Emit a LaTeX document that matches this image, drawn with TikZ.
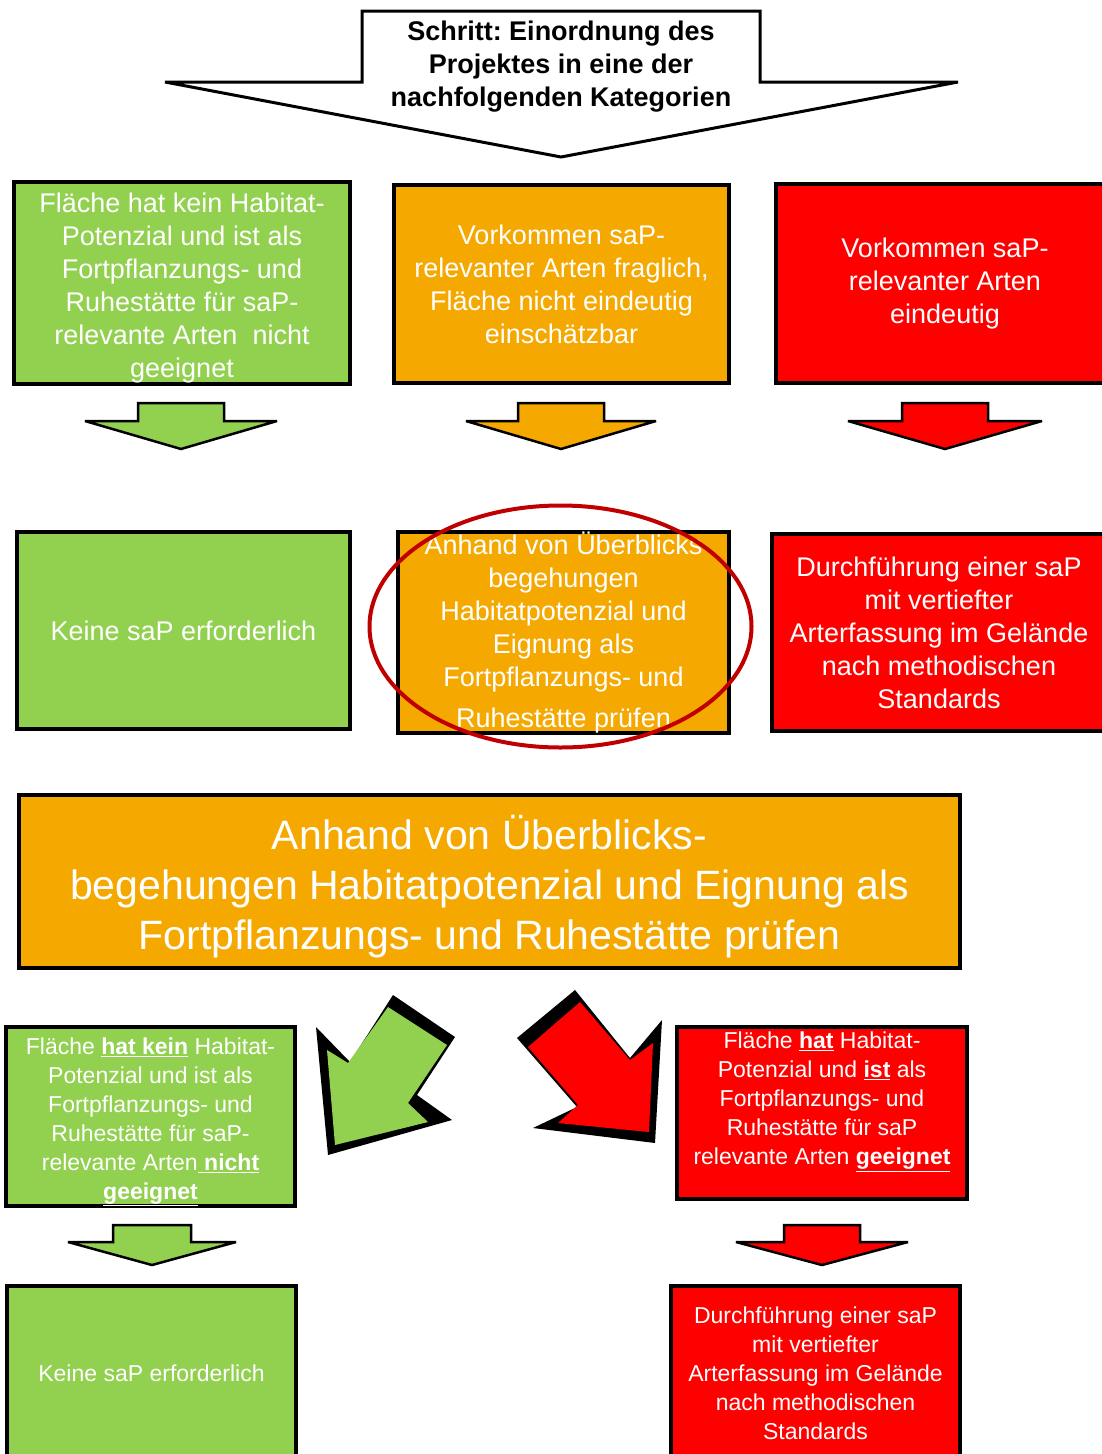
\documentclass[tikz,border=0pt]{standalone}
\usepackage{fontspec}
\setmainfont{Liberation Sans}
\usepackage{tikz}
\usetikzlibrary{positioning}
\definecolor{sapgreen}{HTML}{92D050}
\definecolor{saporange}{HTML}{F5A800}
\definecolor{sapred}{HTML}{FF0000}
\definecolor{ringred}{HTML}{C00000}
\frenchspacing

% block arrow pointing down: colour, centre x, top y, shaft half width, wing half width, wing y, tip y
\newcommand{\blockdown}[7]{%
  \filldraw[fill=#1,draw=black,line width=2.5pt,line join=miter,miter limit=3]
    (#2-#4,#3) -- (#2+#4,#3) -- (#2+#4,#6) -- (#2+#5,#6) -- (#2,#7)
    -- (#2-#5,#6) -- (#2-#4,#6) -- cycle;}

\tikzset{
  catbox/.style={draw=black,line width=4pt,text=white,align=center,inner sep=0pt},
  midtext/.style={font=\fontsize{27}{33}\selectfont},
  bigtext/.style={font=\fontsize{41}{50}\selectfont},
  smalltext/.style={font=\fontsize{23}{29}\selectfont},
}

\begin{document}
\begin{tikzpicture}[x=1pt,y=-1pt]
\useasboundingbox (0,0) rectangle (1101,1454);

% Step arrow
\filldraw[fill=white,draw=black,line width=3pt,line join=miter,miter limit=3]
  (362,11) -- (760,11) -- (760,82) -- (958,82) -- (561,157) -- (165,82) -- (362,82) -- cycle;
\node[align=center,font=\fontsize{27}{33}\selectfont\bfseries] (schritt) at (561,67)
  {Schritt: Einordnung des\\Projektes in eine der\\nachfolgenden Kategorien};

% First row: categories
\node[catbox,midtext,fill=sapgreen,minimum width=336,minimum height=202] (keinpot) at (182,283)
  {\rule{0pt}{30pt}Fläche hat kein Habitat-\\Potenzial und ist als\\Fortpflanzungs- und\\Ruhestätte für saP-\\relevante Arten\ \ nicht\\geeignet};
\node[catbox,midtext,fill=saporange,minimum width=335,minimum height=198] (fraglich) at (561.5,284)
  {Vorkommen saP-\\relevanter Arten fraglich,\\Fläche nicht eindeutig\\einschätzbar};
\node[catbox,midtext,fill=sapred,minimum width=338,minimum height=199] (eindeutig) at (945,283.5)
  {Vorkommen saP-\\relevanter Arten\\eindeutig};

% Arrows below the categories
\blockdown{sapgreen}{181}{403}{43}{96}{421}{449}
\blockdown{saporange}{561}{403}{43}{95}{421}{449}
\blockdown{sapred}{945}{403}{43}{97}{421}{449}

% Second row: consequences
\node[catbox,midtext,fill=sapgreen,minimum width=333,minimum height=197] (keinsap) at (183.5,630.5)
  {Keine saP erforderlich};
\node[catbox,midtext,fill=saporange,minimum width=331,minimum height=201] (pruefen) at (563.5,632.5)
  {Anhand von Überblicks\\begehungen\\Habitatpotenzial und\\Eignung als\\Fortpflanzungs- und\\[8pt]Ruhestätte prüfen};
\node[catbox,midtext,fill=sapred,minimum width=334,minimum height=197] (durchf) at (939,632.5)
  {Durchführung einer saP\\mit vertiefter\\Arterfassung im Gelände\\nach methodischen\\Standards};

% Highlight ring
\draw[ringred,line width=4pt] (pruefen.center) ++(-3,-6) ellipse [x radius=191, y radius=121];

% Detail of the middle case
\node[catbox,bigtext,fill=saporange,minimum width=941,minimum height=173] (pruefgross) at (489.5,881.5)
  {\rule{0pt}{44pt}Anhand von Überblicks-\\begehungen Habitatpotenzial und Eignung als\\Fortpflanzungs- und Ruhestätte prüfen};

% Slanted arrows
\fill[black] (393,995) -- (455,1037) -- (417,1095) -- (452,1120) -- (328,1155) -- (316,1027) -- (350,1062) -- cycle;
\fill[sapgreen] (388,1007) -- (447,1045) -- (408,1103) -- (428,1122) -- (335,1145) -- (327,1050) -- (348,1063) -- cycle;
\fill[black] (575,990) -- (517,1038) -- (577,1107) -- (533,1128) -- (655,1143) -- (662,1020) -- (630,1058) -- cycle;
\fill[sapred] (580,1002) -- (528,1047) -- (578,1105) -- (558,1123) -- (649,1132) -- (653,1043) -- (630,1060) -- cycle;

% Results of the check
\node[catbox,smalltext,fill=sapgreen,minimum width=289,minimum height=173] (keinhab) at (150.5,1116.5)
  {\rule{0pt}{27pt}Fläche \textbf{\underline{hat kein}} Habitat-\\Potenzial und ist als\\Fortpflanzungs- und\\Ruhestätte für saP-\\relevante Arten\textbf{\underline{\ nicht}}\\\textbf{\underline{geeignet}}};
\node[catbox,smalltext,fill=sapred,minimum width=290,minimum height=172] (hathab) at (822,1113)
  {Fläche \textbf{\underline{hat}} Habitat-\\Potenzial und \textbf{\underline{ist}} als\\Fortpflanzungs- und\\Ruhestätte für saP\\relevante Arten \textbf{\underline{geeignet}}\\\mbox{}};

\blockdown{sapgreen}{152}{1225}{39}{84}{1242}{1265}
\blockdown{sapred}{822}{1225}{38}{86}{1242}{1265}

% Last row
\node[catbox,smalltext,fill=sapgreen,minimum width=289,minimum height=174] (keinsapb) at (151.5,1373)
  {Keine saP erforderlich};
\node[catbox,smalltext,fill=sapred,minimum width=289,minimum height=174] (durchfb) at (815.5,1373)
  {Durchführung einer saP\\mit vertiefter\\Arterfassung im Gelände\\nach methodischen\\Standards};

\end{tikzpicture}
\end{document}
